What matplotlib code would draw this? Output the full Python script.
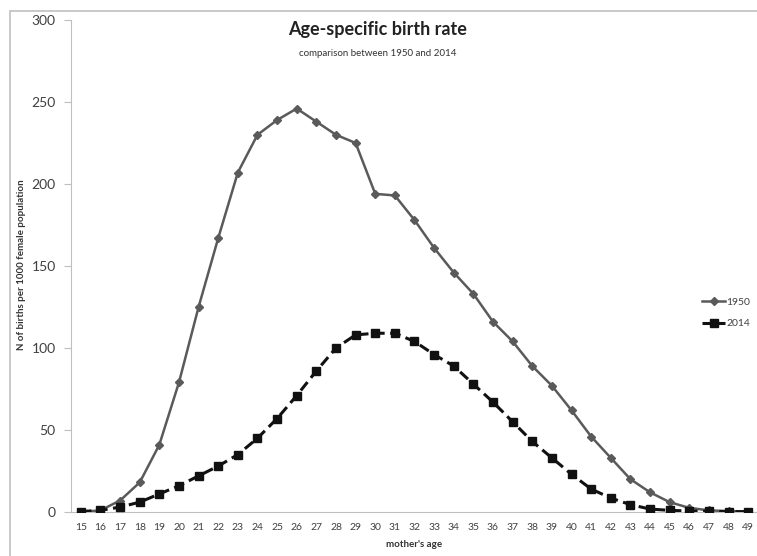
import matplotlib
matplotlib.use("Agg")
import matplotlib.pyplot as plt
from matplotlib.patches import Rectangle

ages = list(range(15, 50))
rate_1950 = [0, 1, 7, 18, 41, 79, 125, 167, 207, 230, 239, 246, 238, 230, 225,
             194, 193, 178, 161, 146, 133, 116, 104, 89, 77, 62, 46, 33, 20, 12,
             6, 2.5, 1, 0.5, 0.2]
rate_2014 = [0.3, 1, 3, 6, 11, 16, 22, 28, 35, 45, 57, 71, 86, 100, 108,
             109, 109, 104, 96, 89, 78, 67, 55, 43, 33, 23, 14, 8.5, 4.5, 1.8,
             1, 0.6, 0.4, 0.3, 0.2]
yticks = [0, 50, 100, 150, 200, 250, 300]

plt.rcParams['font.family'] = ['Lato', 'DejaVu Sans']

fig = plt.figure(figsize=(7.57, 5.56), dpi=100)
W, H = 757, 556
fig.patches.append(Rectangle((10 / W, -0.01), 1.0, 1 - 11 / H + 0.01, transform=fig.transFigure,
                             fill=False, edgecolor='#c0c0c0', linewidth=1.2))

ax = fig.add_axes([71 / W, 1 - 512 / H, (758 - 71) / W, (512 - 20) / H])
ax.plot(ages, rate_1950, color='#5a5a5a', linewidth=1.8, marker='D', markersize=4.5,
        label='1950', zorder=3)
ax.plot(ages, rate_2014, color='#111111', linewidth=2.2, linestyle=(0, (3.5, 1.8)), marker='s',
        markersize=5.5, label='2014', zorder=3)

ax.set_xlim(14.5, 49.5)
ax.set_ylim(0, 300)
ax.set_xticks(ages)
ax.set_xticklabels([str(a) for a in ages], fontsize=7.5, color='#404040')
ax.set_yticks(yticks)
ax.set_yticklabels([str(v) for v in yticks], fontsize=10, color='#404040')
for s in ['top', 'right']:
    ax.spines[s].set_visible(False)
ax.spines['left'].set_color('#bfbfbf')
ax.spines['bottom'].set_color('#bfbfbf')
ax.tick_params(axis='y', length=5, color='#bfbfbf', pad=6)
ax.tick_params(axis='x', length=0, pad=8)

ax.set_xlabel("mother's age", fontsize=7, fontweight='bold', color='#333333', labelpad=6)
fig.text(22 / W, 1 - 265 / H, 'N of births per 1000 female population', rotation=90,
         fontsize=7, fontweight='bold', color='#333333', ha='center', va='center')

fig.text(378 / W, 1 - 30 / H, 'Age-specific birth rate', fontsize=13, fontweight='bold',
         color='#222222', ha='center', va='center')
fig.text(378 / W, 1 - 53 / H, 'comparison between 1950 and 2014', fontsize=7,
         color='#333333', ha='center', va='center')

leg = ax.legend(loc='upper left', bbox_to_anchor=(693 / W, 1 - 288 / H), bbox_transform=fig.transFigure,
                frameon=False, fontsize=7.5, handlelength=2.2, handletextpad=0.1, labelspacing=1.2)
for t in leg.get_texts():
    t.set_color('#404040')

fig.savefig('out.png', dpi=100)
